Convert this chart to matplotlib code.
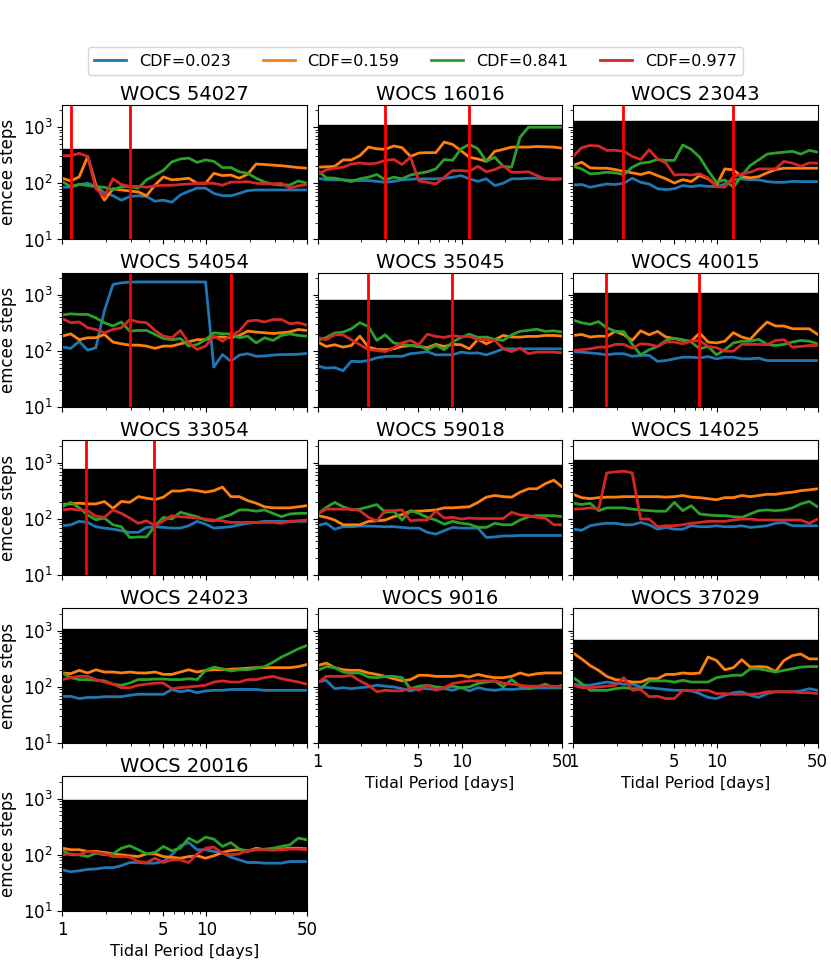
import matplotlib
matplotlib.use('Agg')
import matplotlib.pyplot as plt
import numpy as np

# tidal periods [days] of the grid
periods = [1.0, 1.144, 1.31, 1.5, 1.71, 1.96, 2.25, 2.57, 2.94, 3.37, 3.85, 4.41,
           5.04, 5.77, 6.61, 7.56, 8.65, 9.9, 11.3, 12.97, 14.84, 16.98, 19.43,
           22.24, 25.45, 29.12, 33.33, 38.14, 43.65, 50.0]

stars = ['WOCS 54027', 'WOCS 16016', 'WOCS 23043', 'WOCS 54054', 'WOCS 35045',
         'WOCS 40015', 'WOCS 33054', 'WOCS 59018', 'WOCS 14025', 'WOCS 24023',
         'WOCS 9016', 'WOCS 37029', 'WOCS 20016']

cdf_labels = ['CDF=0.023', 'CDF=0.159', 'CDF=0.841', 'CDF=0.977']

# total emcee steps per star (black region)
max_steps = [400, 1100, 1280, 2350, 800, 1080, 780, 900, 1100, 1050, 1050, 670, 950]

# red vertical markers per star
markers = [[1.14, 2.93], [2.93, 11.3], [2.22, 12.9], [2.93, 14.8], [2.22, 8.6],
           [1.70, 7.48], [1.47, 4.35], [], [], [], [], [], []]

# steps needed per CDF level: blue, orange, green, red
steps_023 = [
    [85, 85, 95, 100, 88, 68, 60, 50, 58, 60, 58, 48, 50, 46, 62, 72, 82, 82, 66, 60, 60, 66, 74, 76, 76, 76, 76, 76, 76, 76],
    [123, 116, 115, 115, 113, 112, 112, 108, 104, 108, 115, 118, 120, 120, 120, 122, 128, 137, 120, 108, 120, 91, 100, 120, 120, 123, 123, 120, 120, 120],
    [93, 95, 85, 91, 97, 95, 100, 123, 104, 97, 80, 77, 80, 91, 87, 91, 88, 87, 97, 115, 120, 115, 115, 107, 104, 104, 108, 107, 107, 107],
    [118, 112, 150, 104, 115, 520, 1530, 1640, 1690, 1700, 1700, 1700, 1700, 1700, 1700, 1700, 1700, 1700, 52, 87, 66, 85, 90, 81, 82, 85, 87, 87, 88, 91],
    [54, 50, 51, 45, 66, 65, 68, 76, 80, 81, 81, 90, 93, 98, 86, 86, 86, 96, 92, 93, 86, 96, 110, 110, 110, 110, 110, 110, 110, 110],
    [98, 96, 93, 90, 86, 90, 90, 81, 84, 84, 66, 68, 73, 78, 78, 76, 80, 73, 78, 78, 73, 73, 75, 68, 68, 68, 68, 68, 68, 68],
    [76, 79, 91, 87, 73, 69, 66, 62, 58, 58, 71, 73, 71, 69, 69, 76, 91, 81, 69, 71, 73, 79, 84, 87, 91, 91, 91, 91, 91, 91],
    [76, 84, 66, 73, 73, 75, 75, 74, 73, 73, 71, 69, 69, 58, 54, 62, 71, 69, 69, 69, 47, 48, 50, 50, 51, 51, 51, 51, 51, 51],
    [66, 63, 76, 81, 84, 84, 79, 79, 87, 79, 66, 71, 66, 66, 76, 73, 73, 76, 73, 73, 76, 71, 73, 76, 84, 87, 76, 76, 76, 76],
    [68, 68, 62, 65, 65, 67, 67, 67, 71, 74, 74, 74, 74, 90, 82, 87, 79, 85, 87, 87, 90, 90, 90, 90, 87, 87, 87, 87, 87, 87],
    [122, 131, 93, 97, 93, 97, 100, 107, 103, 100, 93, 85, 93, 93, 90, 93, 87, 97, 85, 97, 90, 87, 91, 90, 93, 93, 96, 96, 96, 96],
    [112, 107, 107, 115, 122, 117, 112, 112, 100, 97, 93, 90, 87, 87, 85, 76, 65, 62, 71, 79, 82, 71, 65, 76, 82, 82, 82, 85, 93, 87],
    [54, 50, 52, 55, 56, 59, 59, 64, 73, 73, 71, 71, 76, 100, 145, 165, 123, 123, 115, 107, 91, 81, 73, 73, 71, 71, 71, 76, 76, 76],
]
steps_159 = [
    [123, 110, 130, 300, 95, 50, 80, 76, 73, 70, 60, 93, 130, 115, 118, 123, 100, 100, 150, 137, 140, 123, 145, 220, 215, 210, 205, 198, 190, 185],
    [193, 196, 200, 260, 260, 310, 440, 410, 400, 460, 430, 300, 345, 350, 350, 540, 490, 380, 290, 270, 245, 370, 400, 440, 440, 440, 450, 445, 440, 420],
    [207, 237, 188, 185, 185, 175, 163, 153, 143, 157, 137, 120, 101, 116, 107, 137, 120, 91, 180, 173, 131, 125, 131, 153, 175, 185, 185, 185, 185, 185],
    [185, 203, 160, 173, 173, 198, 145, 135, 128, 128, 123, 112, 123, 123, 135, 147, 160, 160, 178, 178, 173, 190, 227, 218, 212, 206, 212, 220, 243, 233],
    [145, 121, 130, 118, 126, 185, 118, 107, 106, 110, 121, 126, 121, 115, 132, 121, 132, 130, 110, 162, 135, 160, 190, 178, 178, 183, 183, 190, 190, 185],
    [190, 198, 178, 185, 183, 225, 195, 155, 230, 195, 225, 178, 168, 155, 150, 210, 145, 140, 150, 213, 178, 162, 235, 330, 280, 280, 250, 250, 250, 198],
    [181, 186, 191, 186, 186, 205, 155, 205, 198, 250, 235, 222, 245, 315, 315, 335, 320, 300, 320, 370, 250, 250, 213, 191, 165, 158, 158, 158, 165, 173],
    [115, 107, 96, 79, 79, 79, 91, 93, 96, 110, 120, 138, 138, 141, 145, 158, 158, 162, 165, 198, 245, 262, 250, 245, 300, 345, 345, 425, 490, 370],
    [275, 240, 230, 240, 245, 245, 250, 250, 250, 250, 250, 245, 250, 262, 245, 240, 230, 220, 240, 240, 262, 250, 262, 275, 275, 290, 300, 320, 330, 345],
    [177, 172, 197, 177, 202, 184, 184, 177, 184, 177, 177, 184, 167, 167, 184, 202, 184, 197, 202, 202, 207, 210, 215, 220, 220, 220, 220, 220, 230, 250],
    [240, 265, 220, 202, 197, 197, 177, 167, 154, 140, 128, 135, 161, 161, 154, 154, 154, 161, 150, 167, 154, 146, 146, 154, 177, 161, 172, 177, 177, 177],
    [400, 315, 240, 197, 154, 135, 131, 122, 122, 140, 140, 167, 167, 177, 172, 177, 340, 295, 202, 220, 305, 225, 230, 225, 188, 295, 360, 385, 315, 315],
    [131, 123, 123, 115, 115, 110, 104, 100, 96, 93, 104, 104, 93, 90, 87, 93, 96, 87, 96, 110, 120, 123, 115, 131, 123, 126, 126, 131, 131, 128],
]
steps_841 = [
    [107, 87, 96, 91, 87, 85, 76, 87, 87, 82, 115, 140, 170, 240, 270, 280, 235, 260, 245, 190, 190, 160, 150, 123, 105, 96, 93, 93, 110, 100],
    [168, 125, 123, 115, 107, 120, 128, 143, 115, 128, 120, 140, 150, 160, 180, 265, 255, 410, 490, 410, 245, 290, 200, 193, 660, 990, 990, 990, 990, 990],
    [200, 180, 147, 150, 157, 153, 143, 193, 228, 237, 265, 255, 255, 480, 400, 290, 168, 104, 115, 85, 137, 207, 260, 330, 345, 357, 370, 330, 385, 357],
    [440, 460, 450, 450, 390, 320, 280, 330, 227, 233, 233, 198, 168, 160, 168, 123, 131, 160, 212, 203, 203, 173, 185, 140, 173, 155, 190, 203, 190, 185],
    [155, 175, 210, 218, 250, 320, 275, 155, 195, 140, 132, 126, 126, 106, 126, 106, 145, 175, 200, 175, 178, 162, 155, 195, 225, 235, 245, 225, 230, 218],
    [355, 320, 300, 335, 260, 225, 222, 132, 86, 106, 121, 155, 170, 160, 145, 110, 121, 86, 106, 140, 150, 150, 162, 132, 126, 132, 145, 155, 150, 135],
    [165, 198, 158, 118, 97, 104, 79, 73, 47, 48, 48, 76, 107, 100, 132, 120, 110, 96, 93, 107, 120, 145, 145, 138, 145, 126, 110, 123, 126, 126],
    [123, 160, 198, 165, 145, 150, 165, 181, 132, 138, 96, 141, 126, 107, 96, 81, 91, 84, 81, 71, 71, 84, 79, 79, 96, 110, 115, 115, 115, 110],
    [191, 181, 191, 141, 158, 158, 158, 150, 145, 141, 138, 138, 198, 141, 173, 123, 118, 115, 115, 110, 107, 123, 141, 145, 141, 145, 158, 186, 205, 165],
    [177, 146, 135, 135, 131, 128, 112, 107, 117, 135, 135, 138, 138, 135, 135, 140, 135, 197, 225, 210, 192, 202, 202, 215, 230, 275, 340, 400, 475, 545],
    [197, 230, 220, 184, 177, 177, 150, 146, 154, 154, 146, 93, 103, 107, 100, 97, 103, 97, 100, 115, 122, 128, 100, 135, 103, 97, 100, 112, 97, 107],
    [146, 115, 87, 87, 87, 93, 97, 93, 93, 128, 128, 128, 122, 131, 122, 122, 122, 146, 154, 161, 161, 210, 210, 197, 184, 197, 210, 225, 230, 230],
    [120, 100, 100, 93, 107, 100, 104, 131, 145, 123, 104, 110, 141, 118, 131, 198, 165, 206, 190, 141, 165, 126, 118, 123, 126, 131, 141, 150, 198, 185],
]
steps_977 = [
    [310, 310, 340, 300, 80, 58, 120, 95, 88, 88, 85, 90, 92, 92, 95, 97, 100, 100, 100, 92, 105, 105, 107, 100, 98, 97, 100, 82, 90, 95],
    [143, 173, 185, 193, 220, 230, 220, 228, 255, 265, 215, 290, 110, 104, 97, 128, 168, 168, 164, 200, 160, 175, 205, 157, 157, 160, 137, 120, 116, 120],
    [300, 430, 470, 460, 385, 385, 370, 300, 265, 395, 270, 230, 140, 143, 140, 147, 125, 87, 85, 131, 147, 157, 180, 180, 180, 245, 228, 200, 230, 228],
    [380, 320, 330, 260, 243, 212, 243, 260, 365, 330, 320, 233, 185, 173, 233, 140, 107, 123, 185, 150, 190, 227, 340, 355, 330, 365, 365, 307, 320, 290],
    [175, 160, 195, 195, 160, 130, 106, 103, 98, 115, 140, 155, 130, 200, 183, 175, 190, 180, 183, 160, 160, 155, 110, 98, 113, 90, 96, 96, 96, 93],
    [103, 106, 110, 118, 118, 132, 132, 113, 135, 132, 121, 145, 145, 135, 150, 155, 121, 115, 100, 100, 132, 132, 132, 130, 155, 160, 118, 121, 126, 126],
    [145, 150, 145, 141, 112, 107, 145, 126, 104, 84, 93, 76, 93, 115, 110, 107, 104, 100, 96, 93, 87, 87, 87, 87, 87, 87, 84, 91, 93, 96],
    [123, 150, 150, 150, 150, 141, 107, 93, 141, 141, 145, 93, 96, 96, 138, 104, 107, 100, 104, 102, 102, 102, 102, 132, 118, 115, 107, 104, 79, 79],
    [150, 152, 158, 150, 660, 690, 710, 660, 100, 100, 73, 76, 76, 79, 84, 87, 91, 91, 91, 96, 100, 100, 96, 96, 96, 96, 96, 96, 84, 100],
    [135, 146, 154, 154, 135, 122, 112, 97, 97, 107, 112, 117, 117, 93, 97, 100, 103, 107, 122, 128, 122, 122, 135, 135, 146, 154, 140, 131, 122, 112],
    [117, 154, 154, 154, 161, 128, 107, 82, 87, 85, 85, 97, 87, 107, 87, 97, 115, 122, 128, 128, 128, 128, 117, 112, 107, 103, 103, 103, 103, 100],
    [107, 97, 97, 100, 103, 107, 146, 87, 90, 67, 68, 62, 62, 87, 85, 87, 87, 76, 76, 74, 74, 74, 76, 82, 82, 82, 82, 79, 79, 76],
    [100, 104, 100, 115, 110, 104, 93, 93, 91, 76, 73, 87, 73, 81, 81, 73, 104, 131, 137, 107, 100, 104, 120, 123, 123, 120, 123, 126, 126, 123],
]

colors = ['tab:blue', 'tab:orange', 'tab:green', 'tab:red']
all_steps = [steps_023, steps_159, steps_841, steps_977]

fig, axes = plt.subplots(5, 3, sharex=True, sharey=True, figsize=(8.31, 9.6), dpi=100)
plt.subplots_adjust(left=0.075, right=0.984, top=0.891, bottom=0.051, wspace=0.045, hspace=0.245)

for n, name in enumerate(stars):
    ax = axes[n // 3, n % 3]
    ax.fill_between(periods, 10, max_steps[n], color='k', zorder=0)
    for k in range(4):
        ax.plot(periods, all_steps[k][n], color=colors[k], lw=2, label=cdf_labels[k])
    for xm in markers[n]:
        ax.axvline(xm, color='red', lw=2)
    ax.set_xscale('log')
    ax.set_yscale('log')
    ax.set_title(name, fontsize=14, pad=3)
    if n % 3 == 0:
        ax.set_ylabel('emcee steps', fontsize=12)

axes[4, 1].remove()
axes[4, 2].remove()

ax0 = axes[0, 0]
ax0.set_xlim(1, 50)
ax0.set_ylim(10, 2500)
ax0.set_xticks([1, 5, 10, 50])
ax0.set_xticklabels(['1', '5', '10', '50'])

for ax in [axes[3, 1], axes[3, 2], axes[4, 0]]:
    ax.tick_params(labelbottom=True)
    ax.set_xlabel('Tidal Period [days]', fontsize=11.5)

for ax in axes.flat:
    ax.tick_params(labelsize=12)

handles, labels = ax0.get_legend_handles_labels()
fig.legend(handles, labels, loc='upper center', ncol=4, bbox_to_anchor=(0.5, 0.959),
           fontsize=11.5, handlelength=2, columnspacing=2.0)

plt.savefig('out.png', dpi=100)
